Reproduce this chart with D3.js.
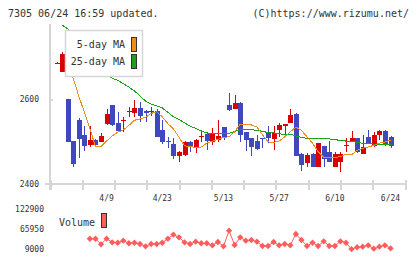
<!DOCTYPE html>
<html>
<head>
<meta charset="utf-8">
<script src="https://cdn.jsdelivr.net/npm/d3@7"></script>
<style>
  body { margin: 0; background: #fff; }
  text { font-family: "DejaVu Sans Mono", monospace; fill: #333; }
</style>
</head>
<body>
<div id="chart"></div>
<script>
// trading days shown (2024)
var dates = ["3/27","3/28","3/29","4/1","4/2","4/3","4/4","4/5","4/8","4/9",
  "4/10","4/11","4/12","4/15","4/16","4/17","4/18","4/19","4/22","4/23",
  "4/24","4/25","4/26","4/30","5/1","5/2","5/7","5/8","5/9","5/10",
  "5/13","5/14","5/15","5/16","5/17","5/20","5/21","5/22","5/23","5/24",
  "5/27","5/28","5/29","5/30","5/31","6/3","6/4","6/5","6/6","6/7",
  "6/10","6/11","6/12","6/13","6/14","6/17","6/18","6/19","6/20","6/21","6/24"];

var open  = [2684,2664,2600,2502,2551,2515,2492,2504,2500,2541,2585,2544,2549,2569,2566,2579,2572,2569,2572,2527,
  2501,2494,2467,2468,2500,2487,2510,2518,2500,2504,2533,2586,2577,2591,2522,2508,2501,2508,2521,2507,
  2527,2536,2544,2565,2471,2449,2471,2441,2489,2475,2441,2452,2491,2500,2508,2471,2511,2489,2515,2525,2511];
var high  = [2686,2711,2601,2502,2555,2536,2536,2505,2520,2576,2587,2570,2558,2582,2598,2593,2573,2581,2576,2551,
  2511,2508,2478,2501,2501,2505,2523,2523,2531,2551,2534,2613,2609,2592,2523,2509,2515,2508,2536,2536,
  2543,2542,2576,2566,2472,2474,2472,2497,2490,2501,2475,2475,2509,2525,2509,2515,2527,2522,2527,2526,2512];
var low   = [2683,2663,2499,2441,2461,2478,2487,2489,2499,2540,2536,2522,2523,2558,2557,2547,2547,2560,2510,2494,
  2484,2460,2452,2467,2476,2474,2500,2480,2492,2500,2504,2572,2576,2500,2478,2467,2480,2485,2497,2480,
  2511,2511,2543,2465,2431,2441,2440,2440,2441,2451,2440,2429,2476,2499,2472,2470,2493,2488,2503,2489,2485];
var close = [2684,2706,2500,2447,2506,2489,2504,2492,2513,2565,2538,2525,2550,2571,2580,2560,2568,2571,2511,2500,
  2499,2467,2475,2500,2487,2504,2512,2502,2518,2513,2510,2574,2591,2515,2504,2488,2482,2507,2508,2521,
  2539,2541,2562,2466,2445,2468,2441,2496,2460,2452,2471,2471,2492,2509,2475,2487,2494,2515,2525,2494,2489];

var ma5  = [null,null,2690,2649,2607,2569,2530,2489,2488,2501,2513,2522,2527,2538,2550,2553,2557,2566,2570,2558,
  2542,2530,2510,2490,2488,2486,2487,2496,2501,2505,2510,2511,2523,2541,2541,2539,2534,2516,2499,2498,
  2501,2511,2523,2534,2526,2511,2496,2476,2463,2462,2463,2464,2470,2469,2479,2484,2487,2491,2496,2499,2503];
var ma25 = [null,2774,2765,2751,2734,2718,2704,2687,2673,2659,2649,2644,2636,2628,2619,2607,2595,2588,2584,2579,
  2569,2558,2552,2544,2536,2531,2525,2520,2519,2519,2519,2519,2524,2527,2529,2528,2526,2524,2521,2520,
  2518,2517,2517,2513,2510,2507,2506,2508,2508,2506,2504,2503,2501,2500,2498,2496,2495,2494,2494,2494,2494];

var volume = [null,null,null,null,null,null,38900,38900,23100,39000,28800,27600,33300,26000,27600,24000,17500,24000,24000,27600,
  39000,50300,42900,28800,24000,30500,26000,26000,20300,29600,17500,61600,21200,42900,33300,35300,30500,18300,18300,29600,
  20300,24000,20300,52200,35300,18300,27600,18300,31600,18300,18300,31600,27600,9500,14700,16400,20300,10700,16400,20300,11800];

var priceTicks = [2400, 2600];
var volTicks = [9000, 65950, 122900];
var labelDates = ["4/9","4/23","5/13","5/27","6/10","6/24"];

var upColor = "#d90000", downColor = "#3f48be";
var ma5Color = "#ef8c1a", ma25Color = "#19a319", volColor = "#ff5c5c";

var svg = d3.select("#chart").append("svg")
  .attr("width", 420).attr("height", 259);

var x = d3.scaleLinear().domain([0, dates.length - 1]).range([56.5, 390.5]);
var y = d3.scaleLinear().domain([2400, 2600]).range([184, 99]);
var yv = d3.scaleLinear().domain([9000, 122900]).range([249.3, 209]);
var xt = d3.scaleLinear().domain([0, 11]).range([50, 405]);

// header
svg.append("text").text("7305 06/24 16:59 updated.")
  .attr("x", 8).attr("y", 17).style("font-size", "10px");
svg.append("text").text("(C)https://www.rizumu.net/")
  .attr("x", 409).attr("y", 17).attr("text-anchor", "end").style("font-size", "10px");

// axes
var axisColor = "#d6d6d6";
svg.append("line").attr("x1", 50).attr("x2", 50).attr("y1", 24).attr("y2", 190)
  .style("stroke", axisColor).style("stroke-width", 2).style("shape-rendering", "crispEdges");
svg.append("line").attr("x1", 45).attr("x2", 405).attr("y1", y(2400)).attr("y2", y(2400))
  .style("stroke", axisColor).style("stroke-width", 2).style("shape-rendering", "crispEdges");

var yAxis = svg.append("g").attr("transform", "translate(50,0)")
  .call(d3.axisLeft(y).tickValues(priceTicks).tickSize(5).tickPadding(6).tickFormat(d3.format("d")));
yAxis.select(".domain").remove();
yAxis.selectAll(".tick line").attr("x2", 3).style("stroke", axisColor).style("stroke-width", 2)
  .style("shape-rendering", "crispEdges");
yAxis.selectAll(".tick text").style("font-size", "8px").style("font-family", "DejaVu Sans Mono");

var xAxis = svg.append("g").attr("transform", "translate(0," + y(2400) + ")")
  .call(d3.axisBottom(xt).tickValues(d3.range(12)).tickSize(6).tickFormat(""));
xAxis.select(".domain").remove();
xAxis.selectAll(".tick line").attr("y1", -4).style("stroke", axisColor).style("stroke-width", 2)
  .style("shape-rendering", "crispEdges");

svg.selectAll(".xlabel").data(labelDates).enter().append("text")
  .attr("class", "xlabel")
  .attr("x", function(d) { return x(dates.indexOf(d)); })
  .attr("y", 201)
  .attr("text-anchor", "middle")
  .style("font-size", "8px")
  .text(function(d) { return d; });

// price plot
svg.append("clipPath").attr("id", "clip").append("rect")
  .attr("x", 50).attr("y", 25).attr("width", 355).attr("height", 159);
var plot = svg.append("g").attr("clip-path", "url(#clip)");

var idx = d3.range(dates.length);
plot.selectAll(".wick").data(idx).enter().append("line")
  .attr("x1", function(i) { return Math.round(x(i)) + 0.5; })
  .attr("x2", function(i) { return Math.round(x(i)) + 0.5; })
  .attr("y1", function(i) { return y(high[i]); })
  .attr("y2", function(i) { return y(low[i]); })
  .style("stroke", function(i) { return close[i] >= open[i] ? upColor : downColor; })
  .style("stroke-width", 1).style("shape-rendering", "crispEdges");

plot.selectAll(".body").data(idx).enter().append("rect")
  .attr("x", function(i) { return Math.round(x(i)) - 2; })
  .attr("width", 5)
  .attr("y", function(i) { return y(Math.max(open[i], close[i])); })
  .attr("height", function(i) { return Math.max(1, Math.abs(y(open[i]) - y(close[i]))); })
  .style("fill", function(i) { return close[i] >= open[i] ? upColor : downColor; })
  .style("shape-rendering", "crispEdges");

var maLine = d3.line()
  .defined(function(d) { return d != null; })
  .x(function(d, i) { return x(i); })
  .y(function(d) { return y(d); });

plot.append("path").datum(ma25).attr("d", maLine)
  .style("fill", "none").style("stroke", ma25Color).style("stroke-width", 1)
  .style("shape-rendering", "crispEdges");
plot.append("path").datum(ma5).attr("d", maLine)
  .style("fill", "none").style("stroke", ma5Color).style("stroke-width", 1)
  .style("shape-rendering", "crispEdges");

// legend
var lg = svg.append("g");
lg.append("rect").attr("x", 65.5).attr("y", 30.5).attr("width", 77).attr("height", 46)
  .style("fill", "#fff").style("stroke", "#d6d6d6").style("stroke-width", 1.5);
var legendItems = [["5-day MA", ma5Color], ["25-day MA", ma25Color]];
legendItems.forEach(function(it, k) {
  lg.append("text").text(it[0]).attr("x", 125).attr("y", 48 + k * 17)
    .attr("text-anchor", "end").style("font-size", "10px");
  lg.append("rect").attr("x", 131.5).attr("y", 37.5 + k * 17).attr("width", 5).attr("height", 14)
    .style("fill", it[1]).style("stroke", "#333").style("stroke-width", 1);
});

// volume
svg.selectAll(".vlabel").data(volTicks).enter().append("text")
  .attr("x", 44).attr("y", function(d) { return yv(d); }).attr("dy", "0.35em")
  .attr("text-anchor", "end").style("font-size", "8px")
  .text(function(d) { return d; });

svg.append("text").text("Volume").attr("x", 59).attr("y", 225.5).style("font-size", "10px");
svg.append("rect").attr("x", 101.5).attr("y", 213.5).attr("width", 5).attr("height", 14)
  .style("fill", volColor).style("stroke", "#333").style("stroke-width", 1);

var volLine = d3.line()
  .defined(function(d) { return d != null; })
  .x(function(d, i) { return x(i); })
  .y(function(d) { return yv(d); });
svg.append("path").datum(volume).attr("d", volLine)
  .style("fill", "none").style("stroke", volColor).style("stroke-width", 1);

svg.selectAll(".vpt").data(idx.filter(function(i) { return volume[i] != null; })).enter()
  .append("path")
  .attr("d", d3.symbol(d3.symbolSquare, 20))
  .attr("transform", function(i) { return "translate(" + x(i) + "," + yv(volume[i]) + ") rotate(45)"; })
  .style("fill", volColor);
</script>
</body>
</html>
